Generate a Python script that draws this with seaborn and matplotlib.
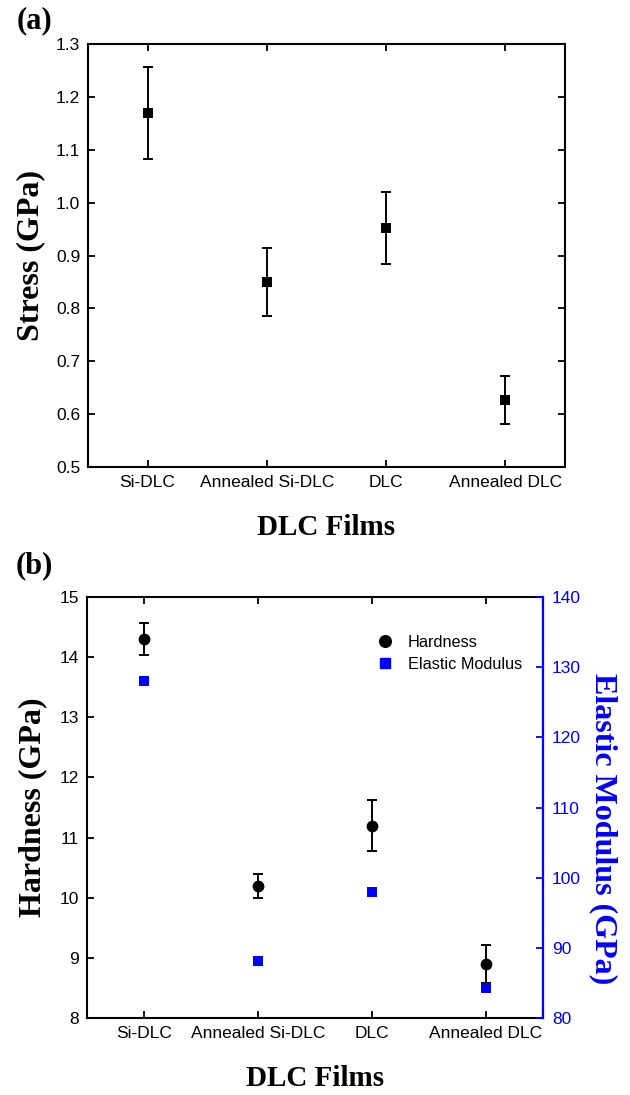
import numpy as np
import pandas as pd
import matplotlib
matplotlib.use("Agg")
import matplotlib.pyplot as plt
import seaborn as sns
from matplotlib.lines import Line2D

# ---- data -------------------------------------------------------------
films = ["Si-DLC", "Annealed Si-DLC", "DLC", "Annealed DLC"]

stress = [1.17, 0.85, 0.952, 0.627]          # GPa
stress_err = [0.087, 0.064, 0.068, 0.045]

hardness = [14.3, 10.2, 11.2, 8.9]           # GPa
hardness_err = [0.26, 0.20, 0.43, 0.32]

modulus = [128.0, 88.1, 98.0, 84.3]          # GPa

stress_ticks = [0.5, 0.6, 0.7, 0.8, 0.9, 1.0, 1.1, 1.2, 1.3]
hardness_ticks = [8, 9, 10, 11, 12, 13, 14, 15]
modulus_ticks = [80, 90, 100, 110, 120, 130, 140]

# ---- style --------------------------------------------------------------
sns.set_style("white")
plt.rcParams["font.family"] = ["Liberation Sans", "DejaVu Sans"]
plt.rcParams.update({
    "text.color": "black",
    "axes.labelcolor": "black",
    "xtick.color": "black",
    "ytick.color": "black",
})
SERIF = ["Liberation Serif", "DejaVu Serif"]
BLUE = "#0000ff"
LABEL_SIZE = 23
XLABEL_SIZE = 21
TICK_SIZE = 12.5

fig = plt.figure(figsize=(6.3, 10.95), dpi=100)
ax_a = fig.add_axes([0.1397, 0.5735, 0.757, 0.3863])
ax_b = fig.add_axes([0.1381, 0.0703, 0.7238, 0.3845])

pos = np.arange(len(films))


def style_axes(ax, yticks, yfmt):
    for sp in ax.spines.values():
        sp.set_linewidth(1.5)
        sp.set_color("black")
        sp.set_visible(True)
    ax.set_xlim(-0.5, len(films) - 0.5)
    ax.set_xticks(pos)
    ax.set_xticklabels(films)
    ax.set_ylim(yticks[0], yticks[-1])
    ax.set_yticks(yticks)
    ax.set_yticklabels([yfmt.format(t) for t in yticks])
    ax.tick_params(axis="both", direction="in", length=5, width=1.3,
                   labelsize=TICK_SIZE, colors="black")
    ax.tick_params(axis="x", top=True, bottom=True, pad=6)
    ax.tick_params(axis="y", left=True, pad=5.5)


# ---- (a) residual stress ------------------------------------------------
df_a = pd.DataFrame({"film": films, "stress": stress})
sns.scatterplot(data=df_a, x="film", y="stress", marker="s", s=58,
                color="black", edgecolor="black", linewidth=0,
                ax=ax_a, zorder=3, legend=False)
ax_a.errorbar(pos, stress, yerr=stress_err, fmt="none", ecolor="black",
              elinewidth=1.4, capsize=3.5, capthick=1.4, zorder=2)
style_axes(ax_a, stress_ticks, "{:.1f}")
ax_a.tick_params(axis="y", right=True)

ax_a.set_xlabel("DLC Films", fontsize=XLABEL_SIZE, fontweight="bold",
                family=SERIF, color="black")
ax_a.xaxis.set_label_coords(0.5, -0.144)
ax_a.xaxis.label.set_va("center")
ax_a.set_ylabel("Stress (GPa)", fontsize=LABEL_SIZE, fontweight="bold",
                family=SERIF, color="black")
ax_a.yaxis.set_label_coords(-0.12, 0.5)
ax_a.yaxis.label.set_va("center")

fig.text(34 / 630, 1 - 21 / 1095, "(a)", fontsize=22, fontweight="bold",
         family=SERIF, ha="center", va="center", color="black")

# ---- (b) hardness and elastic modulus -----------------------------------
df_b = pd.DataFrame({"film": films, "hardness": hardness,
                     "modulus": modulus})
sns.scatterplot(data=df_b, x="film", y="hardness", marker="o", s=72,
                color="black", edgecolor="black", linewidth=0,
                ax=ax_b, zorder=3, legend=False)
ax_b.errorbar(pos, hardness, yerr=hardness_err, fmt="none", ecolor="black",
              elinewidth=1.4, capsize=3.5, capthick=1.4, zorder=2)
style_axes(ax_b, hardness_ticks, "{:d}")
ax_b.spines["right"].set_visible(False)

ax_b.set_xlabel("DLC Films", fontsize=XLABEL_SIZE, fontweight="bold",
                family=SERIF, color="black")
ax_b.xaxis.set_label_coords(0.5, -0.143)
ax_b.xaxis.label.set_va("center")
ax_b.set_ylabel("Hardness (GPa)", fontsize=LABEL_SIZE, fontweight="bold",
                family=SERIF, color="black")
ax_b.yaxis.set_label_coords(-0.118, 0.5)
ax_b.yaxis.label.set_va("center")

ax_m = ax_b.twinx()
sns.scatterplot(data=df_b, x="film", y="modulus", marker="s", s=60,
                color=BLUE, edgecolor=BLUE, linewidth=0,
                ax=ax_m, zorder=3, legend=False)
ax_m.set_xlim(-0.5, len(films) - 0.5)
ax_m.set_ylim(modulus_ticks[0], modulus_ticks[-1])
ax_m.set_yticks(modulus_ticks)
ax_m.set_yticklabels([str(t) for t in modulus_ticks])
for name, sp in ax_m.spines.items():
    sp.set_visible(name == "right")
ax_m.spines["right"].set_color(BLUE)
ax_m.spines["right"].set_linewidth(1.6)
ax_m.tick_params(axis="y", direction="in", length=5, width=1.3,
                 colors=BLUE, labelsize=TICK_SIZE, pad=6.5)
ax_m.set_ylabel("Elastic Modulus (GPa)", fontsize=LABEL_SIZE,
                fontweight="bold", family=SERIF, color=BLUE, rotation=270)
ax_m.yaxis.set_label_coords(1.133, 0.449)
ax_m.yaxis.label.set_va("center")
ax_m.grid(False)

handles = [
    Line2D([], [], marker="o", color="black", linestyle="none",
           markersize=8.4),
    Line2D([], [], marker="s", color=BLUE, linestyle="none",
           markersize=7.4),
]
ax_m.legend(handles, ["Hardness", "Elastic Modulus"], loc="upper left",
            bbox_to_anchor=(0.636, 0.91), frameon=False, fontsize=11.7,
            handlelength=1.0, handletextpad=0.9, labelspacing=0.42,
            borderpad=0, borderaxespad=0, labelcolor="black")

fig.text(34 / 630, 1 - 566 / 1095, "(b)", fontsize=22, fontweight="bold",
         family=SERIF, ha="center", va="center", color="black")

fig.savefig("out.png", dpi=100, facecolor="white")
